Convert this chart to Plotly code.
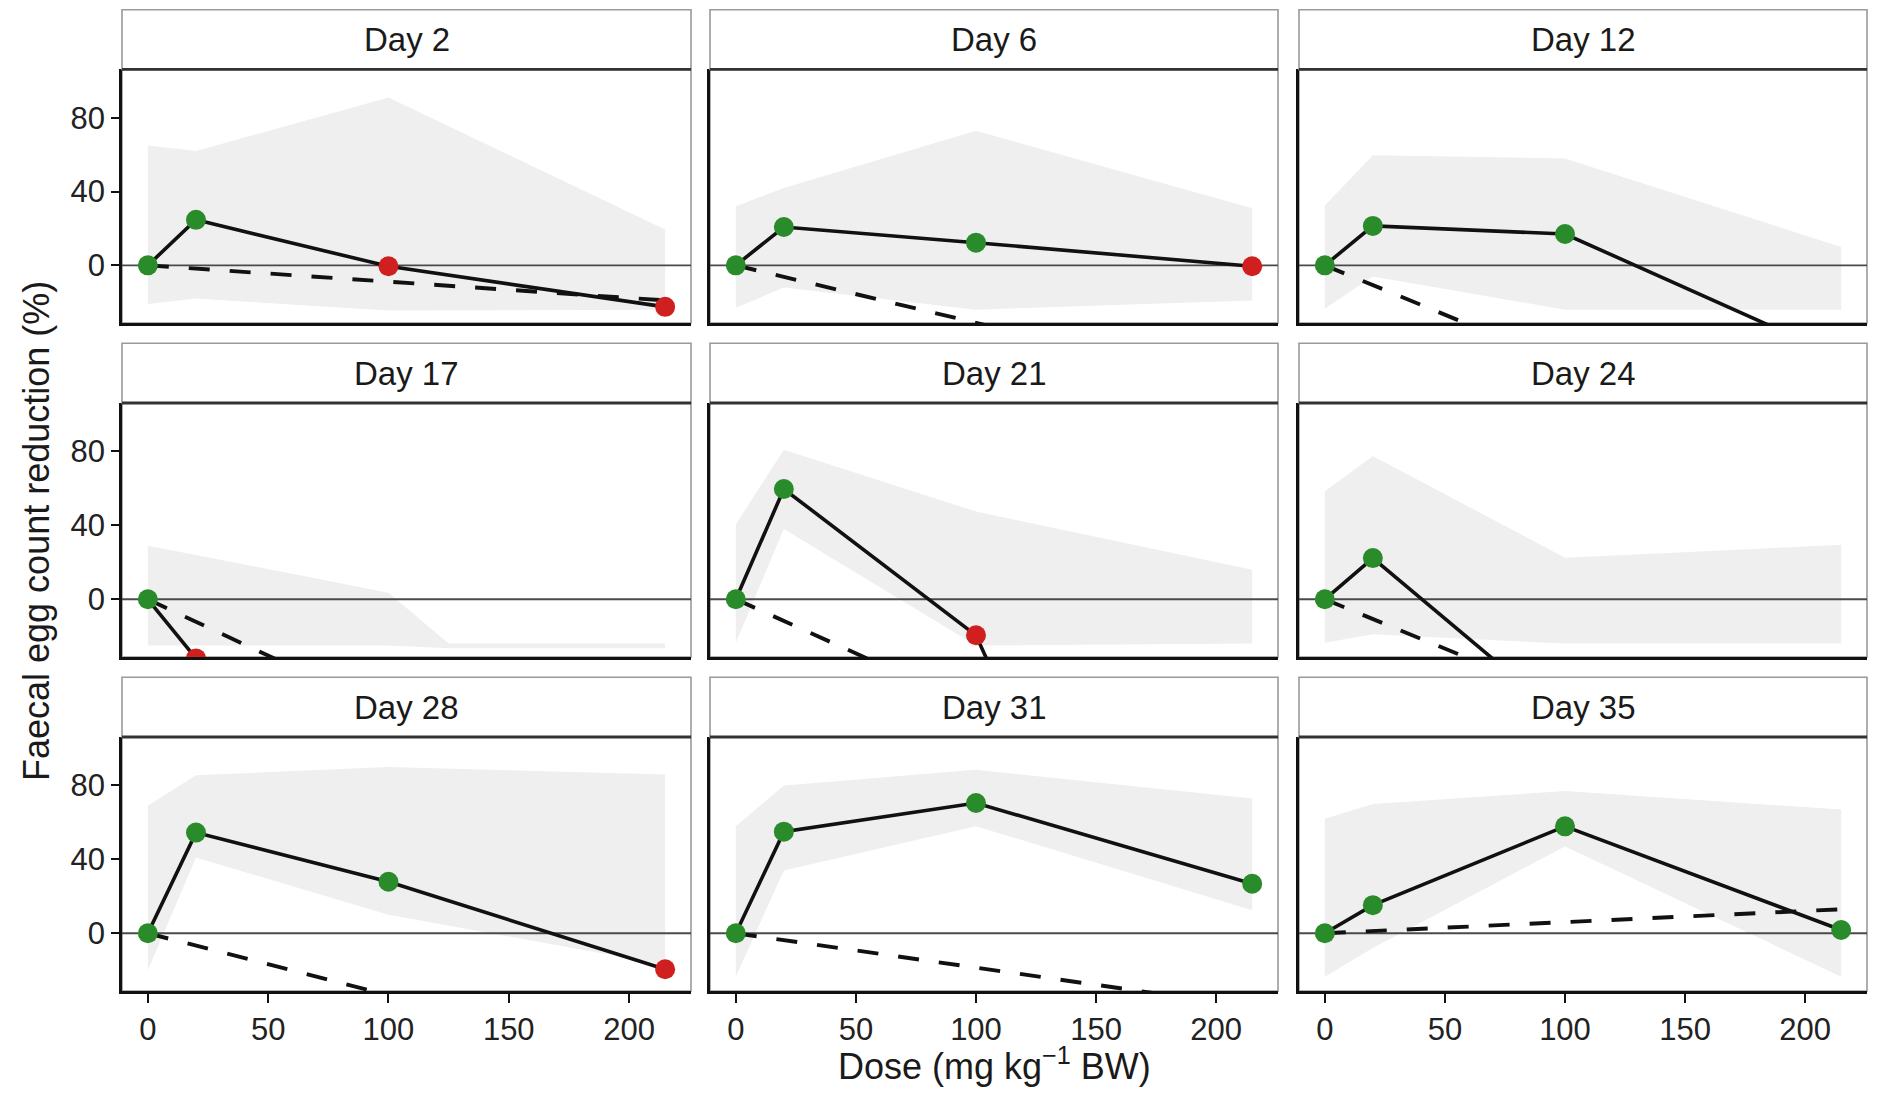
import plotly.graph_objects as go

# ---------------- data ----------------
DAYS = ["Day 2", "Day 6", "Day 12", "Day 17", "Day 21", "Day 24", "Day 28", "Day 31", "Day 35"]
DOSES = [0, 20, 100, 215]

# observed faecal egg count reduction (%) at each dose
FECR = [
    [0, 24.7, -0.5, -22.5],
    [0, 20.8, 12.3, -0.5],
    [0, 21.4, 17.0, -50.0],
    [0, -32.0, -60.0, -80.0],
    [0, 59.7, -19.5, -350.0],
    [0, 22.3, -65.0, -90.0],
    [0, 54.5, 27.9, -19.5],
    [0, 55.0, 70.5, 26.8],
    [0, 15.2, 57.9, 1.8],
]
# point class: "pos" (green) / "neg" (red)
POINT_CLASS = [
    ["pos", "pos", "neg", "neg"],
    ["pos", "pos", "pos", "neg"],
    ["pos", "pos", "pos", "neg"],
    ["pos", "neg", "neg", "neg"],
    ["pos", "pos", "neg", "neg"],
    ["pos", "pos", "neg", "neg"],
    ["pos", "pos", "pos", "neg"],
    ["pos", "pos", "pos", "pos"],
    ["pos", "pos", "pos", "pos"],
]

# dashed reference line (start and end dose / value)
DASH_DOSES = [0, 215]
DASH_VALUES = [
    [0, -19.0],
    [0, -67.0],
    [0, -115.0],
    [0, -131.0],
    [0, -126.0],
    [0, -115.0],
    [0, -72.0],
    [0, -40.0],
    [0, 13.0],
]

# grey interval band
RIB_DOSES = [
    [0, 20, 100, 215],
    [0, 20, 100, 215],
    [0, 20, 100, 215],
    [0, 20, 100, 125, 215],
    [0, 20, 100, 215],
    [0, 20, 100, 215],
    [0, 20, 100, 215],
    [0, 20, 100, 215],
    [0, 20, 100, 215],
]
RIB_UPPER = [
    [65, 62, 91, 19.5],
    [32, 42, 73, 31],
    [32.5, 59.7, 58, 10],
    [29, 24, 3.5, -24, -24],
    [40.5, 81, 47.5, 16],
    [58.5, 77.5, 22.5, 29.5],
    [69, 85.5, 90, 86],
    [58, 80, 88.5, 73],
    [62, 70, 77, 67],
]
RIB_LOWER = [
    [-21, -18, -24.5, -24],
    [-23, -12, -24, -19],
    [-23.5, -6, -24, -24],
    [-25, -25, -25, -26.5, -26.5],
    [-23.5, 38, -25, -24],
    [-23.5, -19, -24, -24],
    [-20, 41, 10, -17],
    [-23.5, 34, 58, 12.5],
    [-23.5, -8, 47, -23.5],
]

X_TICKS = [0, 50, 100, 150, 200]
Y_TICKS = [0, 40, 80]
X_RANGE = [-10.75, 225.75]
Y_RANGE = [-31.25, 106.25]

X_TITLE = "Dose (mg kg<sup>\u22121</sup> BW)"
Y_TITLE = "Faecal egg count reduction (%)"

# ---------------- style / layout ----------------
PAGE_W, PAGE_H = 1877, 1096
BODY = 8                      # default page margin around the plot div
W, H = PAGE_W - 2 * BODY, PAGE_H - 2 * BODY
FONT = "Liberation Sans, Arial, sans-serif"
GREEN = "#2a8b2a"
RED = "#d01f1f"
COLOR_OF = {"pos": GREEN, "neg": RED}
RIB_FILL = "#efefef"


def px_x(p):
    return (p - BODY) / W


def px_y(p):
    return 1 - (p - BODY) / H


X_DOM = [(px_x(122), px_x(691)), (px_x(710), px_x(1278)), (px_x(1299), px_x(1867))]
Y_DOM = [(px_y(323), px_y(69.4)), (px_y(657), px_y(403)), (px_y(991), px_y(737))]
STRIP_H = 59.7 / H

fig = go.Figure()
layout = dict(
    width=W, height=H,
    margin=dict(l=0, r=0, t=0, b=0),
    paper_bgcolor="white", plot_bgcolor="white",
    showlegend=False,
    font=dict(family=FONT, color="#1a1a1a"),
)
shapes = []
annotations = []

for i, day in enumerate(DAYS):
    r, c = divmod(i, 3)
    k = i + 1
    xa = "x" if k == 1 else f"x{k}"
    ya = "y" if k == 1 else f"y{k}"
    xkey = "xaxis" if k == 1 else f"xaxis{k}"
    ykey = "yaxis" if k == 1 else f"yaxis{k}"

    bottom_row = (r == 2)
    left_col = (c == 0)

    layout[xkey] = dict(
        domain=list(X_DOM[c]), anchor=ya, range=X_RANGE,
        showgrid=False, zeroline=False,
        showline=True, linecolor="#111", linewidth=2.8,
        tickmode="array", tickvals=X_TICKS,
        ticks="outside" if bottom_row else "", ticklen=9, tickwidth=2.4, tickcolor="#111",
        showticklabels=bottom_row,
        tickfont=dict(family=FONT, size=31, color="#222"),
        automargin=False, fixedrange=True,
    )
    layout[ykey] = dict(
        domain=list(Y_DOM[r]), anchor=xa, range=Y_RANGE,
        showgrid=False, zeroline=False,
        showline=True, linecolor="#111", linewidth=2.8,
        tickmode="array", tickvals=Y_TICKS,
        ticks="outside" if left_col else "", ticklen=8, tickwidth=2.2, tickcolor="#111",
        showticklabels=left_col,
        tickfont=dict(family=FONT, size=31, color="#222"),
        automargin=False, fixedrange=True,
    )

    # ribbon
    rx = RIB_DOSES[i] + RIB_DOSES[i][::-1]
    ry = RIB_UPPER[i] + RIB_LOWER[i][::-1]
    fig.add_trace(go.Scatter(x=rx, y=ry, xaxis=xa, yaxis=ya, mode="lines",
                             fill="toself", fillcolor=RIB_FILL, line=dict(width=0),
                             hoverinfo="skip"))
    # zero reference line
    fig.add_trace(go.Scatter(x=X_RANGE, y=[0, 0], xaxis=xa, yaxis=ya, mode="lines",
                             line=dict(color="#4a4a4a", width=1.8), hoverinfo="skip"))
    # dashed line
    fig.add_trace(go.Scatter(x=DASH_DOSES, y=DASH_VALUES[i], xaxis=xa, yaxis=ya, mode="lines",
                             line=dict(color="#111", width=3.9, dash="21px,20px"),
                             hoverinfo="skip"))
    # solid line
    fig.add_trace(go.Scatter(x=DOSES, y=FECR[i], xaxis=xa, yaxis=ya, mode="lines",
                             line=dict(color="#111", width=3.6), hoverinfo="skip"))
    # points
    fig.add_trace(go.Scatter(x=DOSES, y=FECR[i], xaxis=xa, yaxis=ya, mode="markers",
                             marker=dict(size=20, color=[COLOR_OF[p] for p in POINT_CLASS[i]],
                                         line=dict(width=0)),
                             cliponaxis=True, hoverinfo="skip"))

    # panel border (grey)
    shapes.append(dict(type="rect", xref=f"{xa} domain", yref=f"{ya} domain",
                       x0=0, x1=1, y0=0, y1=1, line=dict(color="#9a9a9a", width=1.6),
                       fillcolor="rgba(0,0,0,0)", layer="below"))
    # strip box
    x0, x1 = X_DOM[c]
    ytop = Y_DOM[r][1]
    shapes.append(dict(type="rect", xref="paper", yref="paper",
                       x0=x0, x1=x1, y0=ytop, y1=ytop + STRIP_H,
                       line=dict(color="#9a9a9a", width=1.6), fillcolor="white", layer="above"))
    # strip bottom / panel top line
    shapes.append(dict(type="line", xref="paper", yref="paper",
                       x0=x0, x1=x1, y0=ytop, y1=ytop,
                       line=dict(color="#333", width=2.8), layer="above"))
    annotations.append(dict(text=day, xref="paper", yref="paper",
                            x=(x0 + x1) / 2, y=ytop + STRIP_H / 2,
                            xanchor="center", yanchor="middle", showarrow=False,
                            font=dict(family=FONT, size=33, color="#1a1a1a")))

# axis titles
annotations.append(dict(text=X_TITLE, xref="paper", yref="paper",
                        x=px_x(994), y=0, xanchor="center", yanchor="bottom",
                        borderpad=0, showarrow=False,
                        font=dict(family=FONT, size=36, color="#1a1a1a")))
annotations.append(dict(text=Y_TITLE, xref="paper", yref="paper",
                        x=px_x(36), y=px_y(531), xanchor="center", yanchor="middle",
                        textangle=-90, showarrow=False,
                        font=dict(family=FONT, size=36, color="#1a1a1a")))

layout["shapes"] = shapes
layout["annotations"] = annotations
fig.update_layout(**layout)

fig.write_html("out.html")
